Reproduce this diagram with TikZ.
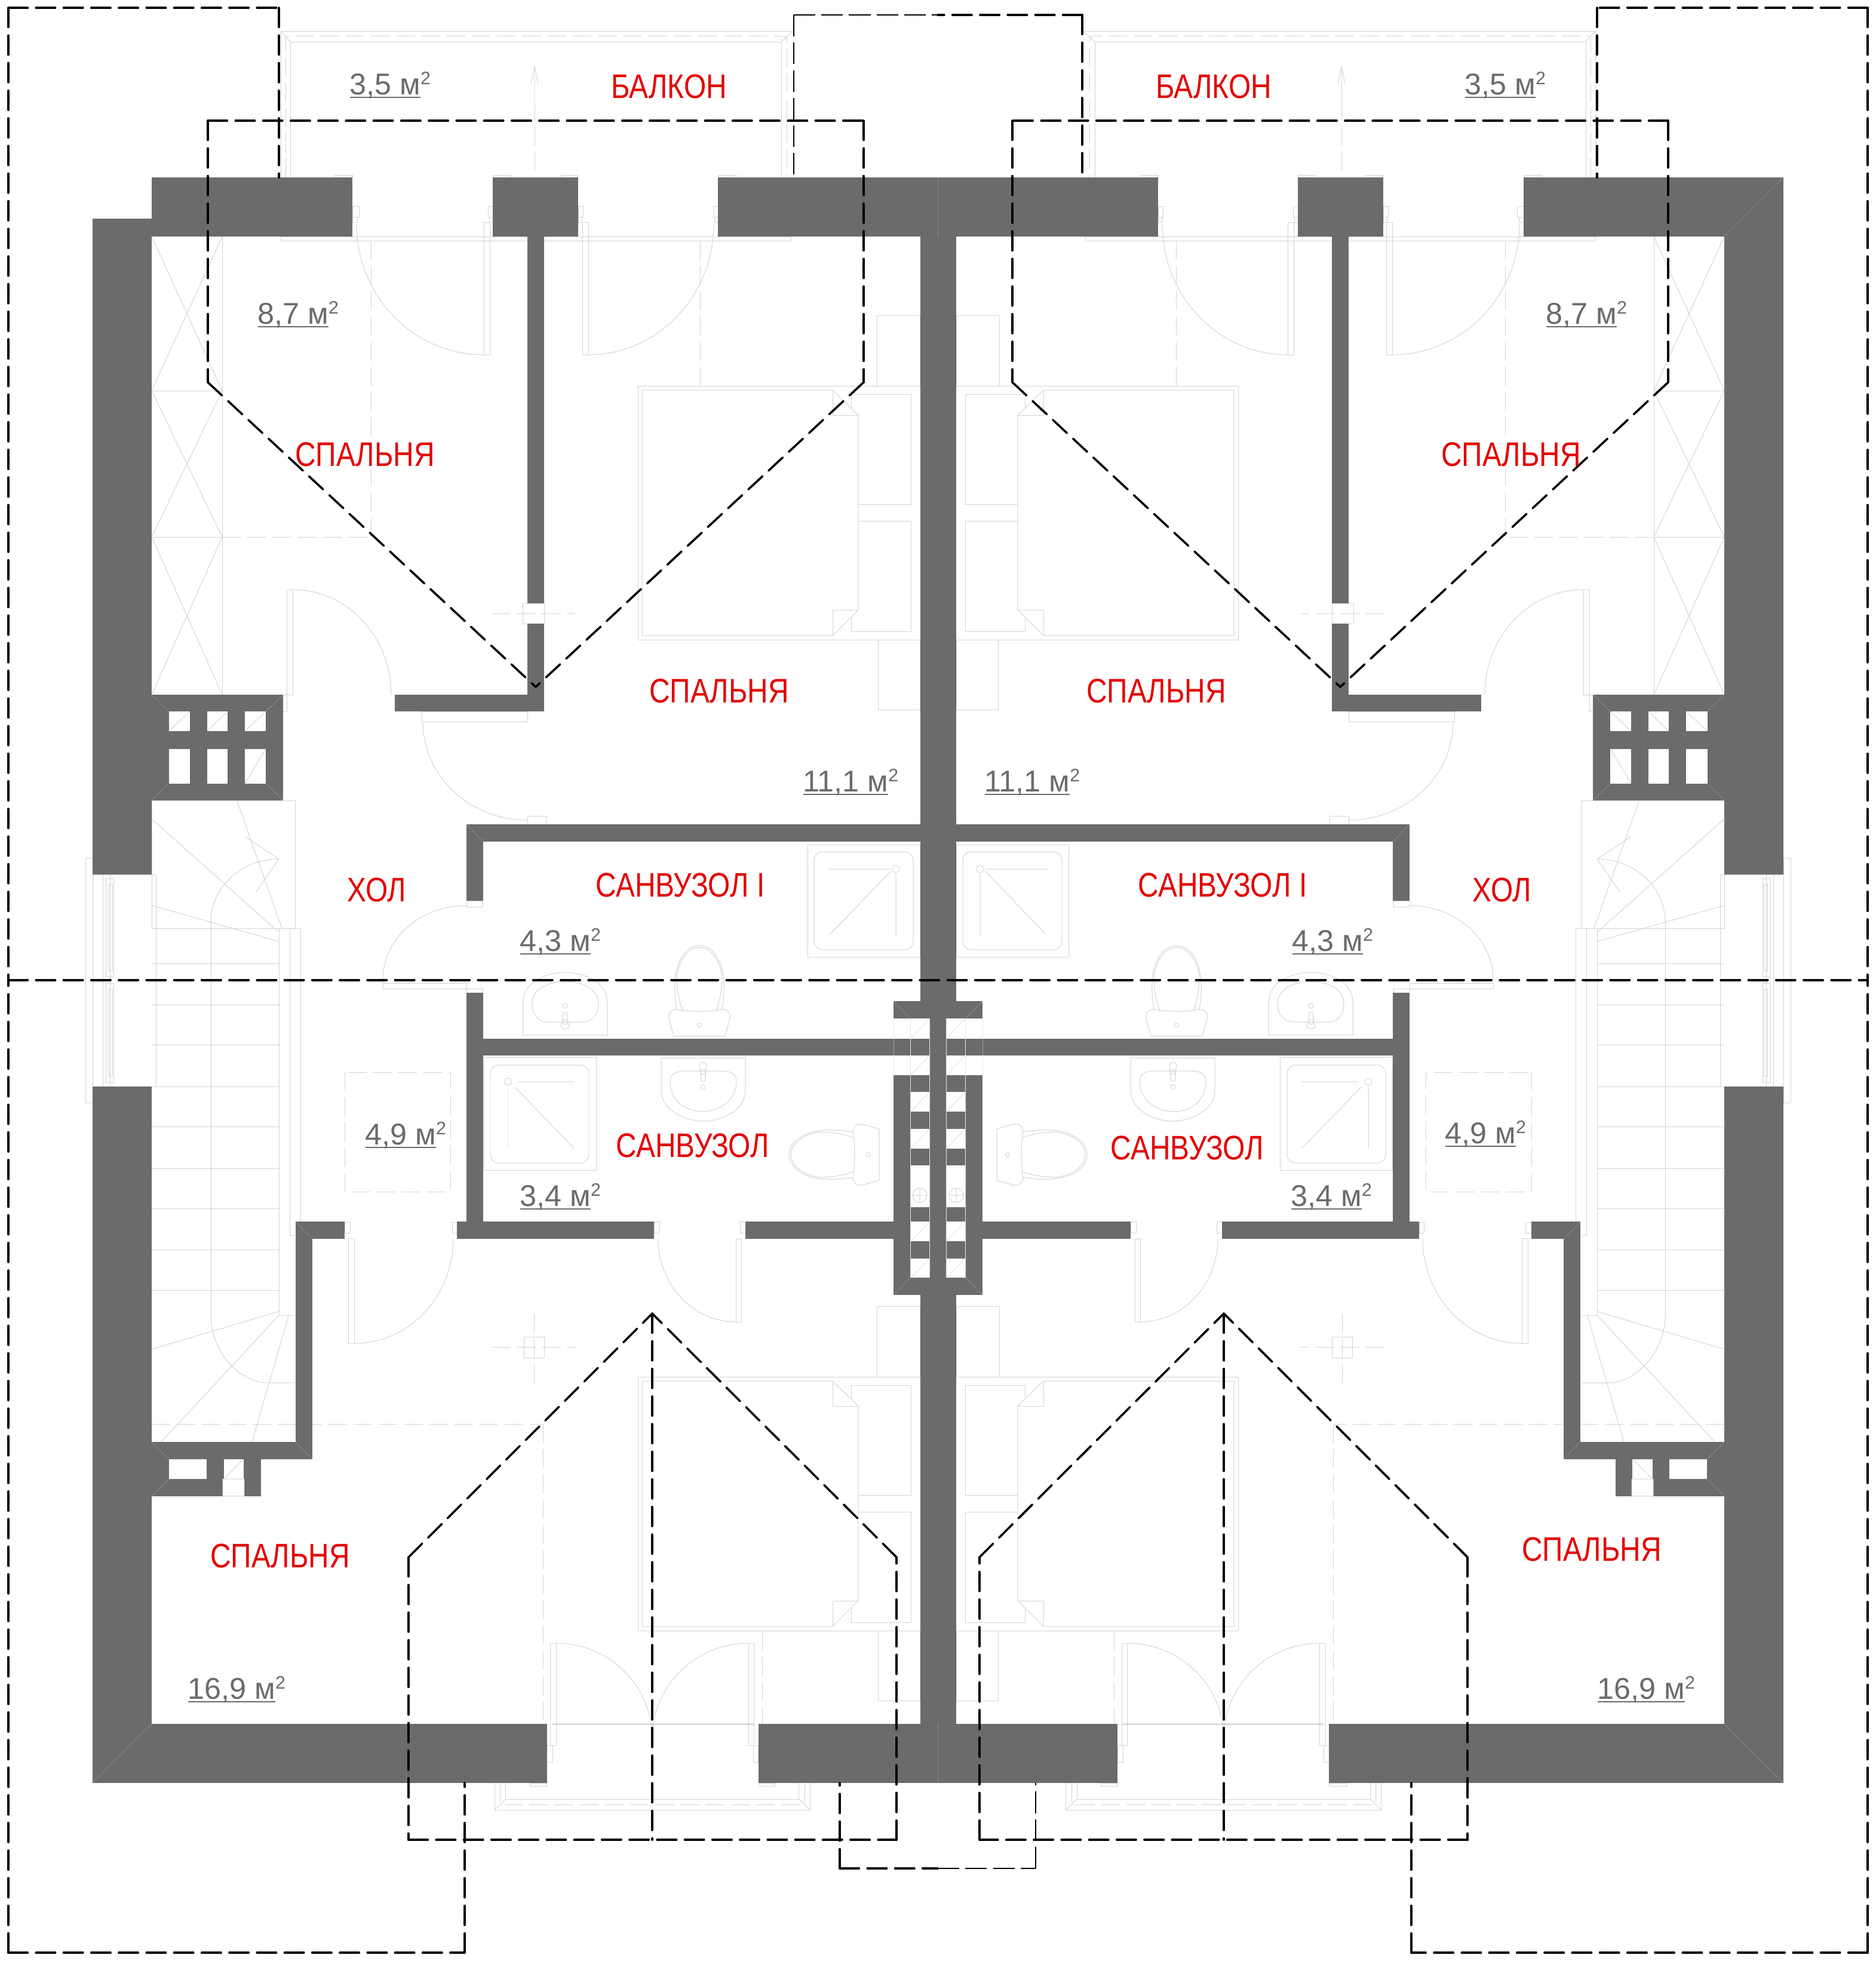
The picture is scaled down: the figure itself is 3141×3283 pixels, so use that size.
\documentclass[tikz,border=0pt]{standalone}
\usepackage{fontspec}
\usetikzlibrary{calc}
\setmainfont{Liberation Sans}
\newfontfamily\redfont[FakeStretch=0.84]{Liberation Sans}
\definecolor{wallc}{HTML}{6B6B6B}
\definecolor{thinc}{HTML}{D4D4D4}
\definecolor{diagc}{HTML}{E4E4E4}
\definecolor{redc}{HTML}{E30000}
\definecolor{greyt}{HTML}{6B6B6B}
\newcommand\W[4]{\fill[wallc] (#1,#2) rectangle (#3,#4);}
\newcommand\Hl[4]{\fill[white] (#1,#2) rectangle (#3,#4);}
\newcommand\T[4]{\draw[thinl] (#1,#2) rectangle (#3,#4);}
\newcommand\Qa[3]{\draw[thinl] (#1) .. controls ($(#1)!.552!(#3)$) and ($(#2)!.552!(#3)$) .. (#2);}
\newcommand\areatxt[1]{\setbox0\hbox{#1}\rlap{\rule[-1.7pt]{\wd0}{0.57pt}}\box0\raisebox{4.7pt}{\fontsize{8.6pt}{10pt}\selectfont 2}}
\tikzset{
  x=0.01cm,y=-0.01cm,
  thinl/.style={draw=thinc,line width=0.28pt},
  thind/.style={draw=thinc,line width=0.28pt,dash pattern=on 9pt off 3pt},
  dashA/.style={draw=black,line width=1.02pt,line cap=round,dash pattern=on 9.2pt off 3.95pt},
  dashT/.style={draw=black,line width=0.5pt,dash pattern=on 10.3pt off 2.85pt},
  mitre/.style={draw=white,opacity=.18,line width=0.28pt},
  roomlab/.style={text=redc,font=\redfont\fontsize{16.2pt}{18pt}\selectfont,inner sep=0pt,anchor=center},
  arealab/.style={text=greyt,font=\fontsize{14.3pt}{16pt}\selectfont,inner sep=0pt,anchor=base west},
}
\newcommand\bedset[1]{%
  \begin{scope}[shift={(0,#1)}]
    \T{1425}{660}{1525}{844}
    \T{1425}{872}{1525}{1057}
    \draw[thinl] (1540,646) -- (1068,646) -- (1068,1071) -- (1540,1071);
    \draw[thinl,fill=white] (1394,653) -- (1075,653) -- (1075,1064) -- (1394,1064) -- (1437,1021) -- (1437,695) -- cycle;
    \draw[thinl] (1394,653) -- (1394,695) -- (1437,695);
    \draw[thinl] (1394,1064) -- (1394,1021) -- (1437,1021);
    \T{1468}{528}{1540}{646}
    \T{1470}{1071}{1540}{1188}
  \end{scope}}
\newcommand\toiletshape{%
  \draw[thinl] (-38,-44) .. controls (-42,-70) and (-42,-90) .. (-40,-100) .. controls (-36,-130) and (-20,-151) .. (0,-151) .. controls (20,-151) and (36,-130) .. (40,-100) .. controls (42,-90) and (42,-70) .. (38,-44);
  \draw[thinl] (-28,-42) .. controls (-35,-60) and (-38,-80) .. (-38,-100) .. controls (-34,-128) and (-18,-148) .. (0,-148) .. controls (18,-148) and (34,-128) .. (38,-100) .. controls (38,-80) and (35,-60) .. (28,-42);
  \draw[thinl,fill=white] (-43,0) -- (-51,-28) .. controls (-52,-38) and (-48,-43) .. (-40,-44) .. controls (-15,-40) and (15,-40) .. (40,-44) .. controls (48,-43) and (52,-38) .. (51,-28) -- (43,0) -- cycle;
  \draw[thinl] (0,-18) circle (3.5);
}
\newcommand\halfplan{%
  % ---- thin drawing: balcony top
  \draw[thinl] (470,297) -- (470,52) -- (1327.5,52);
  \draw[thinl] (486,297) -- (486,70) -- (1308,70) -- (1308,297);
  \draw[thinl] (470,52) -- (486,70);
  \draw[thinl] (1327.5,52) -- (1308,70);
  \draw[thind] (478,297) -- (478,60) -- (1317,60) -- (1317,297);
  \draw[thinl] (895,170) -- (895,111) (889,140) -- (895,111) -- (901,140);
  \draw[thind] (895,170) -- (895,297);
  \draw[thinl] (470,396) -- (1322,396);
  \draw[thinl] (470,396) -- (470,403) -- (1324,403) -- (1324,396);
  \T{561}{293}{590}{297}\T{825}{293}{855}{297}\T{939}{293}{968}{297}\T{1202}{293}{1232}{297}
  \T{590}{345}{601}{363}\T{590}{363}{598}{372}
  \T{817}{345}{825}{363}\T{819}{363}{825}{372}
  \T{968}{345}{976}{363}\T{968}{363}{974}{372}
  \T{1194}{345}{1202}{363}\T{1196}{363}{1202}{372}
  % wardrobes
  \draw[thinl] (372,396) -- (372,1163);
  \draw[thinl] (254,654) -- (372,654) (254,899) -- (372,899);
  \draw[thinl] (254,396) -- (372,654) (372,396) -- (254,654);
  \draw[thinl] (254,654) -- (372,899) (372,654) -- (254,899);
  \draw[thinl] (254,899) -- (372,1163) (372,899) -- (254,1163);
  \draw[thind] (372,899) -- (621,899);
  \draw[thind] (621,403) -- (621,899);
  \draw[thind] (1172,403) -- (1172,646);
  % doors top
  \T{810}{372}{820}{594}
  \Qa{597,375}{810,594}{597,594}
  \T{975}{372}{985}{594}
  \Qa{1195,375}{985,594}{1195,594}
  \T{480}{987}{490}{1163}
  \Qa{490,987}{655,1163}{655,987}
  \T{470}{1163}{480}{1191}
  \T{883}{1191}{706}{1208}
  \Qa{708,1208}{883,1373}{708,1373}
  \T{883}{1366}{915}{1380}
  % socket
  \T{875}{1010}{911}{1044}
  \draw[thind] (822,1027) -- (962,1027);
  % beds
  \bedset{0}
  \bedset{1659}
  % window left
  \draw[thinl] (155,1464) rectangle (261,1819);
  \T{143}{1436}{155}{1846}
  \draw[thinl] (172,1464) -- (172,1819) (184,1464) -- (184,1819);
  \T{177}{1470}{190}{1635}
  \T{177}{1646}{190}{1812}
  \T{182}{1480}{188}{1625}
  \T{182}{1656}{188}{1802}
  % stairs
  \T{254}{1340}{494}{1554}
  \draw[thinl] (254,1371) -- (466,1560) (255,1516) -- (466,1576) (397,1341) -- (472,1554);
  \draw[thinl] (353,1544) .. controls (353,1484) and (405,1438) .. (467,1438);
  \draw[thinl] (411,1401) -- (467,1438) -- (429,1493);
  \draw[thinl] (353,1544) -- (353,2202);
  \draw[thinl] (467,1554) -- (467,2202) -- (494,2202);
  \draw[thinl] (485,1554) -- (485,2068) -- (494,2068);
  \draw[thinl] (503,1554) -- (503,2045);
  \draw[thinl] (467,1554) -- (503,1554);
  \foreach \yy in {1613,1682,1749,1819,1886,1956,2023,2092,2160}{\draw[thinl] (254,\yy) -- (467,\yy);}
  % lower landing
  \draw[thinl] (255,2258.5) -- (467,2195.5) (270,2414) -- (467,2202) (483.4,2202) -- (422,2414);
  \draw[thinl] (353,2202) .. controls (353,2265) and (404,2316) .. (449,2315) -- (494,2315);
  % showers upper
  \T{1352}{1414}{1540}{1602}
  \draw[thinl,rounded corners=4pt] (1363,1426) rectangle (1529,1590);
  \draw[thinl] (1500,1455) circle (6);
  \draw[thinl] (1387,1455) -- (1491,1455) (1500,1463) -- (1500,1567) (1491,1459) -- (1389,1565);
  % upper sink
  \draw[thinl] (875.7,1733) -- (875.7,1680) .. controls (875.7,1640) and (920,1628) .. (946,1628) .. controls (972,1628) and (1017,1640) .. (1017,1680) -- (1017,1733) -- cycle;
  \draw[thinl] (891,1680) .. controls (891,1655) and (920,1643) .. (946,1643) .. controls (972,1643) and (1002,1655) .. (1002,1680) .. controls (1002,1700) and (990,1711) .. (975,1711) -- (917,1711) .. controls (902,1711) and (891,1700) .. (891,1680) -- cycle;
  \draw[thinl] (946,1684) circle (4);
  \draw[thinl] (943,1695) -- (949,1695) -- (950,1708) -- (953,1718) .. controls (952,1724) and (940,1724) .. (939,1718) -- (942,1708) -- cycle;
  \T{943}{1706}{949}{1714}
  % upper toilet
  \begin{scope}[shift={(1171,1734)}]\toiletshape\end{scope}
  % lower shower
  \T{810}{1770}{998}{1959}
  \draw[thinl,rounded corners=4pt] (821,1783) rectangle (986,1947);
  \draw[thinl] (850,1811) circle (6);
  \draw[thinl] (867,1811) -- (962,1811) (850,1820) -- (850,1923) (862,1820) -- (962,1923);
  % lower sink
  \draw[thinl] (1107,1771) -- (1107,1825) .. controls (1107,1860) and (1150,1877) .. (1178,1877) .. controls (1206,1877) and (1248,1860) .. (1248,1825) -- (1248,1771) -- cycle;
  \draw[thinl] (1122,1810) .. controls (1122,1800) and (1130,1793) .. (1145,1793) -- (1210,1793) .. controls (1225,1793) and (1233,1800) .. (1233,1810) .. controls (1233,1845) and (1200,1861) .. (1177,1861) .. controls (1150,1861) and (1122,1845) .. (1122,1810) -- cycle;
  \draw[thinl] (1177,1820) circle (4);
  \draw[thinl] (1174,1810) -- (1180,1810) -- (1183,1785) .. controls (1183,1776) and (1171,1776) .. (1171,1785) -- cycle;
  \T{1174}{1790}{1180}{1798}
  % lower toilet
  \begin{scope}[shift={(1472,1933)},rotate=90]\toiletshape\end{scope}
  % dashed square hall
  \draw[thind] (577,1795) rectangle (754,1995);
  % lower doors
  \T{1232}{2074}{1241}{2213}
  \Qa{1102,2074}{1232,2213}{1102,2213}
  \T{1095}{2045}{1104}{2064}
  \T{1239}{2045}{1248}{2064}
  \T{583}{2073}{593}{2249}
  \Qa{593,2249}{759,2074}{759,2249}
  \T{577}{2046}{586.5}{2064}
  \T{757}{2046}{765}{2064}
  \draw[thinl] (641,1646) rectangle (781,1655);
  \Qa{781,1516}{641,1640}{641,1516}
  \T{781}{1508}{808}{1518}
  \T{781}{1655}{808}{1662}
  \T{921.7}{2751}{931.6}{2922}
  \T{915.6}{2922}{925}{2950}
  \Qa{931.6,2751}{1092,2910}{1092,2751}
  \T{1253.5}{2751}{1262.7}{2922}
  \T{1261}{2922}{1269.6}{2950}
  \Qa{1253.5,2751}{1092,2910}{1092,2751}
  \draw[thinl,draw=gray!70] (925,2886) -- (1262,2886);
  \draw[thind] (1276,2732) -- (1276,2886);
  % ceiling fixture + dashes
  \T{877}{2238}{911}{2273}
  \draw[thind] (823,2255) -- (965,2255);
  \draw[thind] (894,2200) -- (894,2325);
  \draw[thind] (254,2384) -- (909,2384);
  \draw[thind] (909,2384) -- (909,2886);
  % bottom balcony
  \draw[thinl] (828.7,2985) -- (828.7,3030) -- (1356.4,3030) -- (1356.4,2985);
  \draw[thinl] (846.7,2985) -- (846.7,3012) -- (1337.7,3012) -- (1337.7,2985);
  \draw[thind] (837.5,2985) -- (837.5,3021) -- (1347,3021) -- (1347,2985);
  \draw[thinl] (828.7,3030) -- (846.7,3012) (1356.4,3030) -- (1337.7,3012);
  \T{887}{2985}{915.6}{2990}
  \T{1269.6}{2985}{1297.5}{2990}
  % ---- walls
  \W{155}{366}{254}{1464}
  \W{155}{1819}{254}{2985}
  \W{254}{297}{590}{396}
  \W{825}{297}{968}{396}
  \W{1202}{297}{1571}{396}
  \W{883}{396}{911}{1010}
  \W{883}{1044}{911}{1191}
  \W{661}{1163}{911}{1191}
  \W{1540.5}{396}{1571}{1676}
  \W{1496}{1676}{1571}{1705}
  \W{1556.5}{1705}{1571}{2139}
  \W{1496}{1800}{1571}{2168}
  \W{1540.5}{2168}{1571}{2886}
  \W{781}{1380}{1571}{1409}
  \W{781}{1409}{809}{1508}
  \W{781}{1662}{809}{2074}
  \W{809}{1738.5}{1571}{1766.5}
  \W{765}{2045}{1095}{2074}
  \W{1248}{2045}{1496}{2074}
  \W{155}{2886}{915.6}{2985}
  \W{1269.6}{2886}{1571}{2985}
  % upper chimney
  \W{254}{1163}{474}{1340}
  \foreach \xa/\xb in {282.5/318,347/381,410/445}{%
    \Hl{\xa}{1191}{\xb}{1224}\Hl{\xa}{1253.5}{\xb}{1312}}
  \draw[thinl] (282.5,1224) -- (318,1191) (347,1224) -- (381,1191) (410,1224) -- (445,1191) (410,1312) -- (445,1253.5);
  % central chimney holes
  \foreach \ya/\yb in {1828/1861,1890/1923,1951/2021,2045/2078,2107/2139}{%
    \Hl{1524.6}{\ya}{1556.5}{\yb}}
  \draw[thinl,draw=diagc] (1524.6,1705) -- (1524.6,2139) (1556.5,1705) -- (1556.5,2139);
  \draw[draw=thinc,line width=0.2pt,opacity=.5] (1496,1705) -- (1496,1800) (1496,1705) -- (1524.6,1705);
  \draw[thinl] (1540,2001) circle (12) (1528,2001) -- (1552,2001) (1540,1989) -- (1540,2013);
  % lower chimney
  \W{254}{2414}{523}{2443}
  \W{494.6}{2045}{577}{2074}
  \W{494.6}{2074}{523}{2443}
  \W{254}{2443}{436.5}{2504.5}
  \Hl{283}{2443}{346.4}{2476}
  \Hl{374.5}{2443}{408}{2476}
  \Hl{373}{2476}{409}{2504.5}
  \draw[thinl] (373,2476) rectangle (409,2504.5) (375,2476) -- (407,2443);
  % mitre lines
  \draw[mitre] (155,2985) -- (254,2886) (254,1340) -- (282,1312) (474,1340) -- (445,1312) (254,1163) -- (282,1191) (474,1163) -- (445,1191) (781,1380) -- (809,1409) (494,2045) -- (523,2074) (523,2443) -- (494.6,2414) (1496,1676) -- (1524,1705) (1496,2168) -- (1524,2139) (254,2414) -- (283,2443) (254,2504) -- (283,2476) (1570.5,297) -- (1570.5,396) (1570.5,2886) -- (1570.5,2985);
  % ---- dashed overlay
  \draw[dashA] (348,202) -- (1446,202);
  \draw[dashA] (348,202) -- (348,640);
  \draw[dashA] (1446,202) -- (1446,640);
  \draw[dashA] (348,640) -- (897,1150);
  \draw[dashA] (1446,640) -- (897,1150);
  \draw[dashA] (14,13) -- (467,13);
  \draw[dashA] (14,13) -- (14,1641);
  \draw[dashA] (467,13) -- (467,297);
  \draw[dashA] (14,3269) -- (14,1641);
  \draw[dashA] (14,3269) -- (778,3269);
  \draw[dashA] (778,3269) -- (778,2985);
  \draw[dashA] (684,2607) -- (684,3080);
  \draw[dashA] (684,3080) -- (1501,3080);
  \draw[dashA] (1501,3080) -- (1501,2607);
  \draw[dashA] (684,2607) -- (1092,2199);
  \draw[dashA] (1501,2607) -- (1092,2199);
  \draw[dashA] (1092,2199) -- (1092,3080);
}
\begin{document}
\begin{tikzpicture}
\useasboundingbox (0,0) rectangle (3141,3283);
\fill[white] (0,0) rectangle (3141,3283);
\halfplan
\begin{scope}[shift={(3141,0)},xscale=-1]
\halfplan
\end{scope}
% right-hand roof corner of the house
\W{2887}{297}{2986}{366}
\draw[mitre] (2986,297) -- (2887,396);
% chimney diagonals run one way on both sides
\foreach \xa/\xb in {1524.6/1556.5,1584.7/1616}{%
  \foreach \ya/\yb in {1705/1738.5,1766.5/1800,1828/1861,1890/1923,2045/2078,2107/2139}{%
    \draw[thinl,draw=diagc] (\xa,\yb) -- (\xb,\ya);}}
% section lines
\draw[dashA] (14,1641) -- (3127,1641);
\draw[dashT] (1329,25) -- (1570,25);
\draw[dashT] (1329,25) -- (1329,297);
\draw[dashA] (1812,25) -- (1570,25);
\draw[dashA] (1812,25) -- (1812,297);
\draw[dashA] (1406,3128) -- (1406,2985);
\draw[dashA] (1406,3128) -- (1570,3128);
\draw[dashT] (1570,3128) -- (1734,3128);
\draw[dashT] (1734,3128) -- (1734,2985);
% room labels
\node[roomlab] (r1) at (1120,145) {БАЛКОН};
\node[roomlab] (r2) at (2032,145) {БАЛКОН};
\node[roomlab] (r3) at (611,761) {СПАЛЬНЯ};
\node[roomlab] (r4) at (2530,761) {СПАЛЬНЯ};
\node[roomlab] (r5) at (1204,1157) {СПАЛЬНЯ};
\node[roomlab] (r6) at (1936,1157) {СПАЛЬНЯ};
\node[roomlab] (r7) at (631,1490) {ХОЛ};
\node[roomlab] (r8) at (2515,1490) {ХОЛ};
\node[roomlab] (r9) at (1139,1482) {САНВУЗОЛ І};
\node[roomlab] (r10) at (2047,1482) {САНВУЗОЛ І};
\node[roomlab] (r11) at (1160,1918) {САНВУЗОЛ};
\node[roomlab] (r12) at (1988,1922) {САНВУЗОЛ};
\node[roomlab] (r13) at (469,2605) {СПАЛЬНЯ};
\node[roomlab] (r14) at (2665,2594) {СПАЛЬНЯ};
% area labels
\node[arealab] (a1) at (585,158) {\areatxt{3,5 м}};
\node[arealab] (a2) at (2452,158) {\areatxt{3,5 м}};
\node[arealab] (a3) at (431,542) {\areatxt{8,7 м}};
\node[arealab] (a4) at (2588,542) {\areatxt{8,7 м}};
\node[arealab] (a5) at (1344,1325) {\areatxt{11,1 м}};
\node[arealab] (a6) at (1648,1325) {\areatxt{11,1 м}};
\node[arealab] (a7) at (870,1592) {\areatxt{4,3 м}};
\node[arealab] (a8) at (2163,1592) {\areatxt{4,3 м}};
\node[arealab] (a9) at (611,1916) {\areatxt{4,9 м}};
\node[arealab] (a10) at (2419,1914) {\areatxt{4,9 м}};
\node[arealab] (a11) at (870,2019) {\areatxt{3,4 м}};
\node[arealab] (a12) at (2161,2019) {\areatxt{3,4 м}};
\node[arealab] (a13) at (314,2844) {\areatxt{16,9 м}};
\node[arealab] (a14) at (2674,2844) {\areatxt{16,9 м}};
\end{tikzpicture}
\end{document}
